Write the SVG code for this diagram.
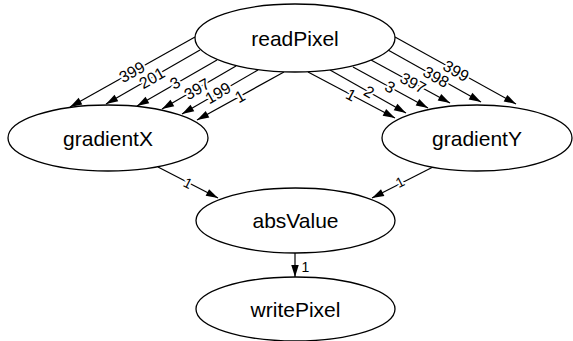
<svg xmlns="http://www.w3.org/2000/svg" width="573" height="341" viewBox="0 0 573 341">
<style>
.node ellipse{fill:#fff;stroke:#000;stroke-width:1.3}
.node text{font-family:"Liberation Sans",Arial,sans-serif;font-size:21px;fill:#000;text-anchor:middle;dominant-baseline:central}
.edges line{stroke:#000;stroke-width:1.2;marker-end:url(#ah)}
.edges text{font-family:"Liberation Sans",Arial,sans-serif;font-size:16px;fill:#000;text-anchor:middle;dominant-baseline:central;stroke:#fff;stroke-width:4;paint-order:stroke;stroke-linejoin:round}
.edges text.s{font-size:14px}
</style>
<defs>
<marker id="ah" markerUnits="userSpaceOnUse" markerWidth="13" markerHeight="9" refX="12" refY="3.75" orient="auto" overflow="visible">
<path d="M0,0 L12,3.75 L0,7.5 z" fill="#000"/>
</marker>
</defs>
<rect width="573" height="341" fill="#fff"/>
<g class="edges">
<line x1="195" y1="37" x2="70" y2="107"/>
<line x1="200" y1="50" x2="106" y2="104"/>
<line x1="217" y1="60" x2="137" y2="106"/>
<line x1="236" y1="66" x2="162" y2="109"/>
<line x1="258" y1="70" x2="182" y2="114"/>
<line x1="284" y1="72" x2="197" y2="120"/>
<line x1="395" y1="37" x2="516" y2="104"/>
<line x1="388" y1="50" x2="481" y2="102"/>
<line x1="371" y1="60" x2="450" y2="103"/>
<line x1="353" y1="67" x2="428" y2="108"/>
<line x1="330" y1="70" x2="406" y2="113"/>
<line x1="308" y1="72" x2="395" y2="118"/>
<line x1="158" y1="167" x2="218" y2="198"/>
<line x1="433" y1="167" x2="372" y2="198"/>
<line x1="295" y1="253" x2="295" y2="277"/>
<text transform="translate(132,72) rotate(-29)">399</text>
<text transform="translate(152,78) rotate(-30)">201</text>
<text transform="translate(175,83) rotate(-30)">3</text>
<text transform="translate(197,89) rotate(-30)">397</text>
<text transform="translate(218,93) rotate(-30)">199</text>
<text transform="translate(240,96.5) rotate(-29)">1</text>
<text transform="translate(456,71) rotate(29)">399</text>
<text transform="translate(436,77) rotate(29)">398</text>
<text transform="translate(413,83) rotate(28.5)">397</text>
<text transform="translate(390,87) rotate(28.7)">3</text>
<text transform="translate(369,92) rotate(29.5)">2</text>
<text transform="translate(351,95) rotate(28)">1</text>
<text class="s" transform="translate(188,183) rotate(27)">1</text>
<text class="s" transform="translate(400,182) rotate(-27)">1</text>
<text class="s" x="305.5" y="267">1</text>
</g>
<g id="readPixel" class="node"><ellipse cx="295" cy="38" rx="100" ry="34"/><text x="295" y="38">readPixel</text></g>
<g id="gradientX" class="node"><ellipse cx="108" cy="138" rx="100" ry="33"/><text x="108" y="138">gradientX</text></g>
<g id="gradientY" class="node"><ellipse cx="477" cy="138" rx="95" ry="33"/><text x="477" y="138">gradientY</text></g>
<g id="absValue" class="node"><ellipse cx="295.5" cy="220.5" rx="99.5" ry="32.5"/><text x="295.5" y="220.5">absValue</text></g>
<g id="writePixel" class="node"><ellipse cx="295.5" cy="309" rx="99.5" ry="32"/><text x="295.5" y="309">writePixel</text></g>
</svg>
